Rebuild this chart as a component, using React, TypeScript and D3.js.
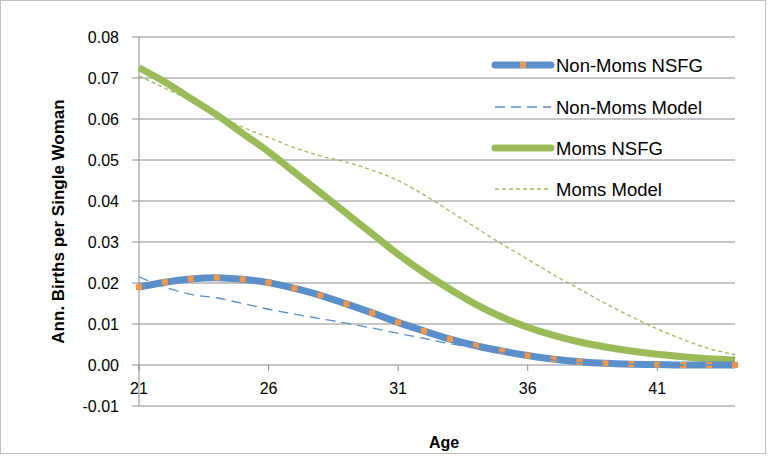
import * as d3 from "d3";

const ages = d3.range(21, 45);
const nonMomsNsfg = [0.019, 0.0202, 0.021, 0.0213, 0.0209, 0.0201, 0.0187, 0.017, 0.0149, 0.0127, 0.0104, 0.0083, 0.0063, 0.0047, 0.0034, 0.0023, 0.0014, 0.0008, 0.0004, 0.0002, 0.0001, 0.0, 0.0, 0.0];
const nonMomsModel = [0.0215, 0.019, 0.0172, 0.0164, 0.015, 0.0136, 0.0124, 0.0113, 0.0102, 0.009, 0.0077, 0.0065, 0.0052, 0.0042, 0.003, 0.002, 0.0012, 0.0006, 0.0003, 0.0002, 0.0001, 0.0, 0.0, 0.0];
const momsNsfg = [0.0725, 0.069, 0.065, 0.061, 0.0565, 0.052, 0.047, 0.042, 0.037, 0.032, 0.027, 0.0225, 0.0185, 0.0148, 0.0117, 0.0092, 0.0072, 0.0056, 0.0044, 0.0034, 0.0026, 0.002, 0.0015, 0.0012];
const momsModel = [0.0705, 0.0675, 0.0645, 0.061, 0.058, 0.0555, 0.053, 0.051, 0.0495, 0.0475, 0.045, 0.0415, 0.0375, 0.0335, 0.0295, 0.0258, 0.022, 0.0185, 0.015, 0.0118, 0.0088, 0.0062, 0.004, 0.0025];
const yTicks = [-0.01, 0, 0.01, 0.02, 0.03, 0.04, 0.05, 0.06, 0.07, 0.08];
const xTicks = [21, 26, 31, 36, 41];

const BLUE = "#5b8fc9";
const GREEN = "#9bbb59";
const ORANGE = "#f79646";
const FONT = "Liberation Sans, Arial, sans-serif";

export default function App() {
  const x = d3.scaleLinear().domain([21, 44]).range([139, 735]);
  const y = d3.scaleLinear().domain([-0.01, 0.08]).range([406, 37]);
  const line = (vals: number[]) =>
    d3.line<number>().x((_, i) => x(ages[i])).y((d) => y(d)).curve(d3.curveMonotoneX)(vals) ?? "";

  const legend = [
    { label: "Non-Moms NSFG", y: 65 },
    { label: "Non-Moms Model", y: 107 },
    { label: "Moms NSFG", y: 148 },
    { label: "Moms Model", y: 189 },
  ];

  return (
    <svg width={770} height={465} style={{ position: "absolute", left: 0, top: 0, fontFamily: FONT }}>
      <rect x={0.5} y={0.5} width={765} height={453} fill="white" stroke="#bfbfbf" />
      {yTicks.map((t) => (
        <g key={t}>
          <line x1={132} x2={735} y1={y(t)} y2={y(t)} stroke="#8c8c8c" strokeWidth={1} />
          <text x={119} y={y(t) + 6} textAnchor="end" fontSize={16}>
            {t.toFixed(2)}
          </text>
        </g>
      ))}
      <line x1={x(21)} x2={x(21)} y1={y(0.08)} y2={y(-0.01)} stroke="#8c8c8c" />
      {xTicks.map((t) => (
        <g key={t}>
          <line x1={x(t)} x2={x(t)} y1={y(0)} y2={y(0) + 6} stroke="#8c8c8c" />
          <text x={x(t)} y={y(0) + 29} textAnchor="middle" fontSize={16}>
            {t}
          </text>
        </g>
      ))}
      <path d={line(momsNsfg)} fill="none" stroke={GREEN} strokeWidth={7} />
      <path d={line(momsModel)} fill="none" stroke={GREEN} strokeWidth={1.3} strokeDasharray="4,3" />
      <path d={line(nonMomsNsfg)} fill="none" stroke={BLUE} strokeWidth={7} />
      {nonMomsNsfg.map((v, i) => (
        <rect key={i} x={x(ages[i]) - 3} y={y(v) - 3} width={6} height={6} fill={ORANGE} />
      ))}
      <path d={line(nonMomsModel)} fill="none" stroke={BLUE} strokeWidth={1.3} strokeDasharray="10,6" />

      {legend.map((l, i) => (
        <g key={l.label}>
          {i === 0 && (
            <>
              <line x1={495} x2={551} y1={l.y} y2={l.y} stroke={BLUE} strokeWidth={7} strokeLinecap="round" />
              <rect x={520} y={l.y - 3} width={6} height={6} fill={ORANGE} />
            </>
          )}
          {i === 1 && <line x1={495} x2={551} y1={l.y} y2={l.y} stroke={BLUE} strokeWidth={1.3} strokeDasharray="10,6" />}
          {i === 2 && <line x1={495} x2={551} y1={l.y} y2={l.y} stroke={GREEN} strokeWidth={7} strokeLinecap="round" />}
          {i === 3 && <line x1={495} x2={551} y1={l.y} y2={l.y} stroke={GREEN} strokeWidth={1.3} strokeDasharray="4,3" />}
          <text x={556} y={l.y + 7} fontSize={18.5}>
            {l.label}
          </text>
        </g>
      ))}

      <text x={444} y={448} textAnchor="middle" fontSize={16} fontWeight="bold">
        Age
      </text>
      <text transform={`translate(64,${y(0.035)}) rotate(-90)`} textAnchor="middle" fontSize={17} fontWeight="bold">
        Ann. Births per Single Woman
      </text>
    </svg>
  );
}
